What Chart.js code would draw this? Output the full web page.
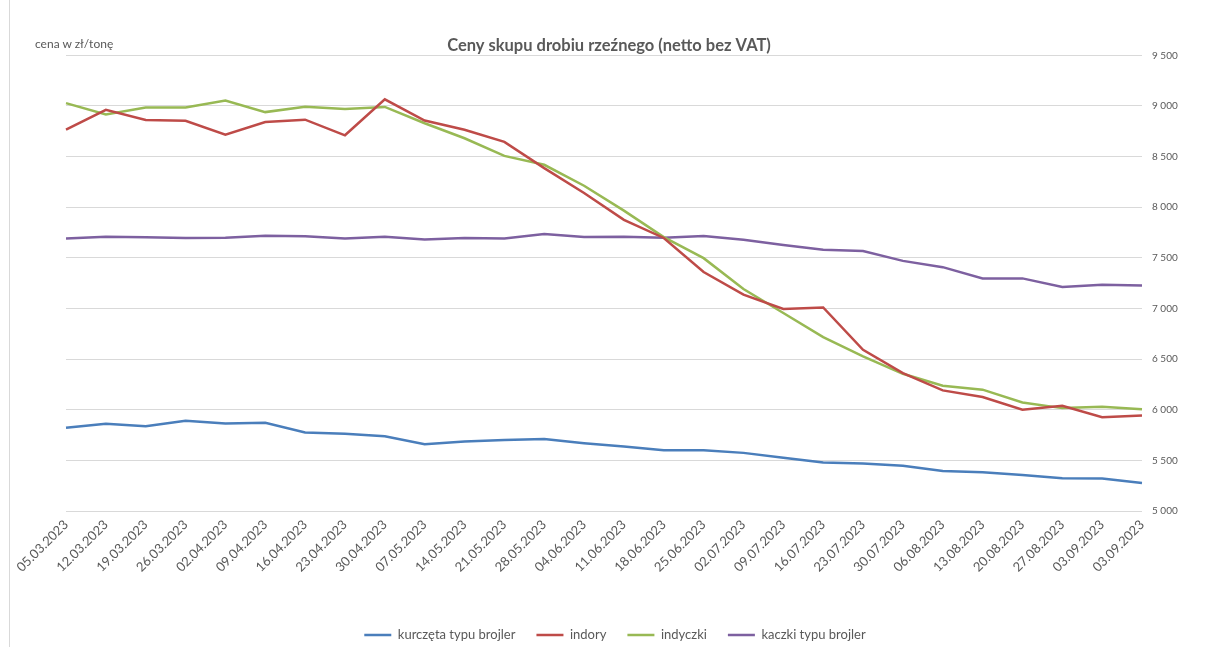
<!DOCTYPE html>
<html lang="pl">
<head>
<meta charset="utf-8">
<title>Ceny skupu drobiu rzeźnego</title>
<script src="https://cdn.jsdelivr.net/npm/chart.js@4.4.1/dist/chart.umd.min.js"></script>
<style>
  html, body { margin: 0; padding: 0; background: #ffffff; }
  #wrap { position: relative; width: 1210px; height: 647px; overflow: hidden; }
  #chart { position: absolute; left: 0; top: 0; }
  #unit { position: absolute; left: 35px; top: 37px; font: 12px Lato, "Open Sans", sans-serif; color: #595959; line-height: 14px; white-space: nowrap; }
  #edge { position: absolute; left: 9px; top: 0; width: 1px; height: 647px; background: #d9d9d9; }
</style>
</head>
<body>
<div id="wrap">
  <div id="edge"></div>
  <canvas id="chart" width="1210" height="647"></canvas>
  <div id="unit">cena w zł/tonę</div>
</div>
<script>
const categories = ["05.03.2023","12.03.2023","19.03.2023","26.03.2023","02.04.2023","09.04.2023","16.04.2023","23.04.2023","30.04.2023","07.05.2023","14.05.2023","21.05.2023","28.05.2023","04.06.2023","11.06.2023","18.06.2023","25.06.2023","02.07.2023","09.07.2023","16.07.2023","23.07.2023","30.07.2023","06.08.2023","13.08.2023","20.08.2023","27.08.2023","03.09.2023","03.09.2023"];

const kurczeta = [5822,5861,5838,5891,5865,5871,5776,5762,5739,5660,5686,5700,5710,5670,5637,5601,5601,5574,5525,5479,5469,5446,5396,5383,5356,5323,5320,5277];
const indory   = [8766,8962,8861,8854,8716,8841,8864,8710,9065,8856,8764,8645,8386,8140,7875,7696,7360,7136,6995,7010,6592,6362,6191,6125,6000,6040,5926,5943];
const indyczki = [9028,8916,8985,8985,9054,8939,8992,8969,8990,8829,8681,8507,8419,8212,7966,7705,7497,7192,6955,6717,6526,6355,6237,6198,6072,6016,6030,6004];
const kaczki   = [7690,7709,7703,7696,7699,7719,7714,7690,7707,7680,7696,7690,7735,7705,7708,7698,7716,7679,7627,7580,7567,7470,7408,7297,7297,7212,7233,7227];

const seriesNames = ["kurczęta typu brojler","indory","indyczki","kaczki typu brojler"];
const yMin = 5000, yMax = 9500, yStep = 500;

const colors = ["#4A7EBB","#BE4B48","#98B954","#7D60A0"];
const textColor = "#595959";

Chart.defaults.font.family = "Lato, 'Open Sans', sans-serif";

function fmt(v) {
  return String(v).replace(/\B(?=(\d{3})+(?!\d))/g, " ");
}

const shiftPlugin = {
  id: "shift",
  afterLayout(chart) {
    const lg = chart.legend;
    if (lg) { lg.top += 4.5; lg.bottom += 4.5; lg.left += 10; lg.right += 10; }
    const t = chart.titleBlock;
    if (t) { t.left += 4; t.right += 4; }
  }
};

const values = [kurczeta, indory, indyczki, kaczki];

new Chart(document.getElementById("chart"), {
  type: "line",
  data: {
    labels: categories,
    datasets: values.map((d, i) => ({
      label: seriesNames[i],
      data: d,
      borderColor: colors[i],
      backgroundColor: colors[i],
      borderWidth: 2.5,
      pointRadius: 0,
      pointHoverRadius: 0,
      tension: 0,
      fill: false
    }))
  },
  options: {
    responsive: false,
    animation: false,
    layout: { padding: 0 },
    plugins: {
      title: {
        display: true,
        text: "Ceny skupu drobiu rzeźnego (netto bez VAT)",
        color: textColor,
        font: { size: 16.5, weight: "bold" },
        padding: { top: 35.5, bottom: 0 }
      },
      legend: {
        position: "bottom",
        labels: {
          usePointStyle: true,
          pointStyle: "line",
          pointStyleWidth: 27,
          color: textColor,
          font: { size: 13 },
          padding: 21
        }
      },
      tooltip: { enabled: false }
    },
    scales: {
      x: {
        grid: { display: false, drawTicks: false },
        border: { display: false },
        ticks: {
          autoSkip: false,
          maxRotation: 45,
          minRotation: 45,
          color: textColor,
          font: { size: 13 },
          padding: 6
        },
        afterFit(s) {
          s.height = 92;
          s.paddingLeft = 66;
          s.paddingRight = 0;
        }
      },
      y: {
        position: "right",
        min: yMin,
        max: yMax,
        grid: { color: "#d9d9d9", lineWidth: 1, drawTicks: false },
        border: { display: false },
        ticks: {
          stepSize: yStep,
          color: textColor,
          font: { size: 10 },
          padding: 10,
          callback: (v) => fmt(v)
        },
        afterFit(s) {
          s.width = 68;
        }
      }
    }
  },
  plugins: [shiftPlugin]
});
</script>
</body>
</html>
